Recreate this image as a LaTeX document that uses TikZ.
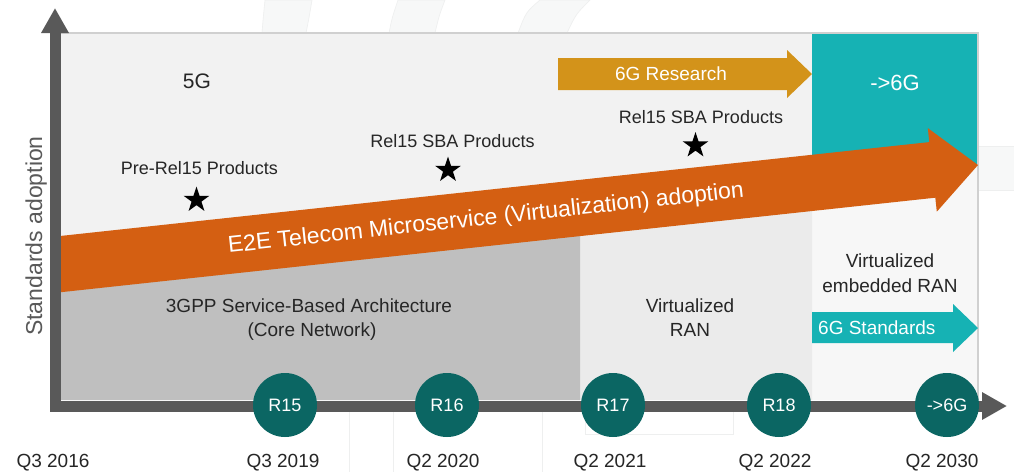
\documentclass[tikz,border=0pt]{standalone}
\usepackage{fontspec}
\setmainfont{Liberation Sans}
\usetikzlibrary{arrows.meta,shapes.geometric}

\definecolor{panelfill}{HTML}{F2F2F2}
\definecolor{panelline}{HTML}{D0D0D0}
\definecolor{sbafill}{HTML}{BFBFBF}
\definecolor{ranfill}{HTML}{EBEBEB}
\definecolor{erfill}{HTML}{F7F7F7}
\definecolor{orangeband}{HTML}{D45F12}
\definecolor{goldband}{HTML}{D3931A}
\definecolor{tealband}{HTML}{16B2B4}
\definecolor{relteal}{HTML}{0B6663}
\definecolor{axisgray}{HTML}{595959}
\definecolor{labeltext}{HTML}{262626}
\definecolor{ghost}{HTML}{F7F8F8}
\definecolor{ghostline}{HTML}{EEEFEF}

\begin{document}
\begin{tikzpicture}[x=1pt,y=-1pt,
  lbl/.style={font=\fontsize{18}{22}\selectfont, text=labeltext, anchor=base, inner sep=0pt},
  datelbl/.style={font=\fontsize{19}{23}\selectfont, text=labeltext, anchor=base, inner sep=0pt},
  whitelbl/.style={font=\fontsize{19}{23}\selectfont, text=white, anchor=base, inner sep=0pt},
  release/.style={circle, fill=relteal, minimum size=64pt, inner sep=0pt,
    text=white, font=\fontsize{18}{22}\selectfont},
  product/.style={star, star points=5, star point ratio=2.6, fill=black,
    minimum size=27pt, inner sep=0pt},
  axis/.style={draw=axisgray, line width=11pt, line join=miter,
    {Triangle[length=25pt,width=26pt]}-{Triangle[length=25pt,width=26pt]}},
  ghostband/.style={fill=ghost, draw=ghostline, line width=0.6pt}
]
\useasboundingbox (0,0) rectangle (1014,472);
\fill[white] (0,0) rectangle (1014,472);

% faint watermark bands behind the chart
\path[ghostband] (262,33) .. controls (263,20) .. (265,0) -- (312,0) .. controls (309,18) .. (306,33) -- cycle;
\path[ghostband] (389,33) .. controls (392,18) .. (398,0) -- (445,0) .. controls (439,16) .. (435,33) -- cycle;
\path[ghostband] (518,33) .. controls (526,12) .. (540,0) -- (590,0) .. controls (576,14) .. (567,33) -- cycle;
\path[ghostband] (978,146) rectangle (1014,190);
\draw[ghostline, line width=0.8pt] (349,412) -- (349,472) (393,412) -- (393,472) (542,412) -- (542,472);
\draw[ghostline, line width=0.8pt] (585,412) -- (585,434) -- (733,434) -- (733,412);

% chart panel and its regions
\fill[panelfill] (60,33) rectangle (978,400);
\fill[tealband] (812,33) rectangle (978,165);
\fill[erfill] (812,165) rectangle (978,400);
\fill[ranfill] (580,205) -- (812,180) -- (812,400) -- (580,400) -- cycle;
\fill[sbafill] (60,262) -- (580,205) -- (580,400) -- (60,400) -- cycle;
\draw[panelline, line width=1.5pt] (60,33) -- (978,33) -- (978,400);

% microservice adoption arrow
\fill[orangeband] (60,236) -- (929.3,142.1) -- (927.8,128.1) -- (978,165)
  -- (936.8,211.7) -- (935.3,197.7) -- (60,292.3) -- cycle;
\node[font=\fontsize{23}{27}\selectfont, text=white, rotate=6.17, inner sep=0pt]
  (e2e) at (486,219) {E2E Telecom Microservice (Virtualization) adoption};

% 6G research and standards arrows
\fill[goldband] (558,58) -- (787,58) -- (787,50) -- (812,74) -- (787,98) -- (787,90) -- (558,90) -- cycle;
\node[whitelbl, anchor=base] (research) at (671,80) {6G Research};
\fill[tealband] (812,312) -- (953,312) -- (953,304) -- (978,328) -- (953,352) -- (953,343) -- (812,343) -- cycle;
\node[whitelbl, anchor=base west] (standards) at (818,334) {6G Standards};

% axes
\coordinate (ytip) at (55,8);
\coordinate (origin) at (55,406);
\coordinate (xtip) at (1007,406);
\draw[axis] (ytip) -- (origin) -- (xtip);
\node[font=\fontsize{23}{27}\selectfont, text=axisgray, rotate=90, anchor=base, inner sep=0pt]
  (yaxis) at (42,236) {Standards adoption};

% region labels
\node[lbl, font=\fontsize{21}{25}\selectfont] (fiveg) at (197,88) {5G};
\node[whitelbl, font=\fontsize{22}{26}\selectfont] (sixg) at (895,90) {->6G};
\node[lbl, font=\fontsize{19}{23}\selectfont] (sba1) at (309,312) {3GPP Service-Based Architecture};
\node[lbl, font=\fontsize{19}{23}\selectfont] (sba2) at (312,336) {(Core Network)};
\node[lbl, font=\fontsize{19}{23}\selectfont] (vran1) at (690,312) {Virtualized};
\node[lbl, font=\fontsize{19}{23}\selectfont] (vran2) at (690,336) {RAN};
\node[lbl, font=\fontsize{19}{23}\selectfont] (eran1) at (890,267) {Virtualized};
\node[lbl, font=\fontsize{19}{23}\selectfont] (eran2) at (890,292) {embedded RAN};

% product milestones
\node[lbl] (prerel) at (199.5,174) {Pre-Rel15 Products};
\node[product] (star1) at (196.5,200) {};
\node[lbl] (sbaprod1) at (452.5,147) {Rel15 SBA Products};
\node[product] (star2) at (448,170) {};
\node[lbl] (sbaprod2) at (701,123) {Rel15 SBA Products};
\node[product] (star3) at (695.5,145.5) {};

% releases on the time axis
\node[release] (r15) at (285,405) {R15};
\node[release] (r16) at (447,405) {R16};
\node[release] (r17) at (613,405) {R17};
\node[release] (r18) at (779,405) {R18};
\node[release] (r6g) at (947,405) {->6G};

% dates
\node[datelbl] (d2016) at (53,467) {Q3 2016};
\node[datelbl] (d2019) at (283,467) {Q3 2019};
\node[datelbl] (d2020) at (443,467) {Q2 2020};
\node[datelbl] (d2021) at (610,467) {Q2 2021};
\node[datelbl] (d2022) at (775,467) {Q2 2022};
\node[datelbl] (d2030) at (942,467) {Q2 2030};
\end{tikzpicture}
\end{document}
